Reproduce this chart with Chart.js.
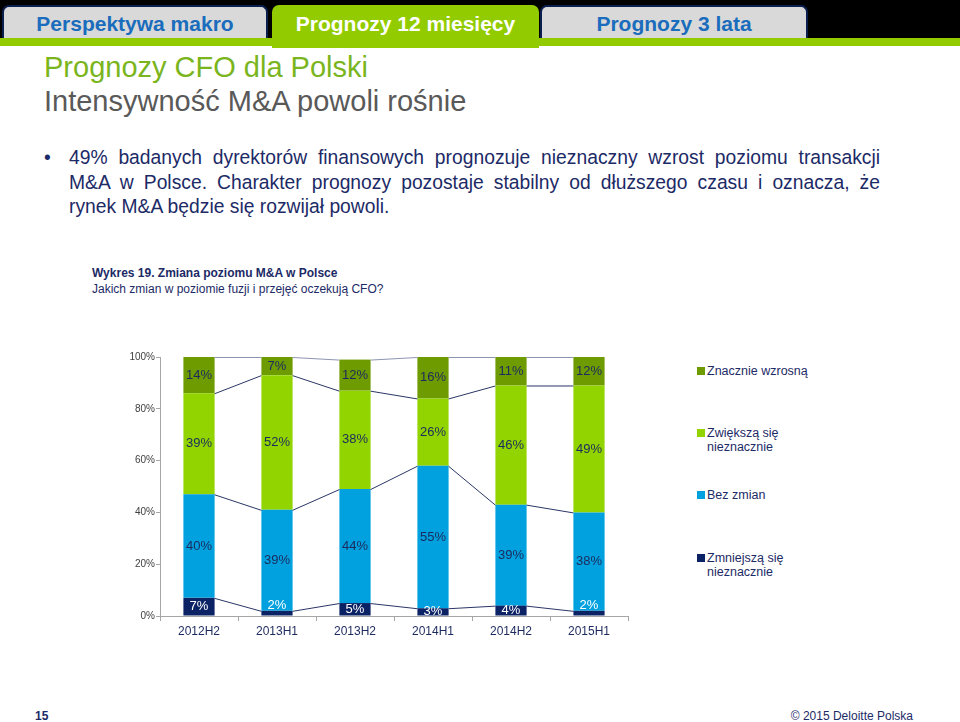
<!DOCTYPE html>
<html lang="pl">
<head>
<meta charset="utf-8">
<script src="https://cdn.jsdelivr.net/npm/chart.js@4/dist/chart.umd.min.js"></script>
<style>
  body { margin: 0; width: 960px; height: 722px; position: relative; background: #fff; font-family: "Liberation Sans", Arial, sans-serif; overflow: hidden; }
  .topbar { position: absolute; left: 0; top: 0; width: 960px; height: 39px; background: #000; }
  .greenbar { position: absolute; left: 0; top: 38px; width: 960px; height: 8px; background: #92cc00; }
  .tab { position: absolute; top: 5px; height: 31px; border: 2px solid #0b1f4f; border-bottom: none; border-radius: 7px 7px 0 0; background: #d9d9d9; color: #1a6cbc; font-weight: bold; font-size: 21px; line-height: 33px; text-align: center; }
  .tab.active { background: #92cc00; color: #fff; border-color: #92cc00; height: 41px; }
  .title { position: absolute; left: 44px; top: 51px; font-size: 29px; color: #7ab51d; }
  .subtitle { position: absolute; left: 44px; top: 85px; font-size: 29px; color: #595959; }
  .bullet { position: absolute; left: 69px; top: 146px; width: 811px; font-size: 19.3px; line-height: 24.5px; color: #1c2a66; }
  .bullet div { text-align: justify; text-align-last: justify; }
  .bullet div.last { text-align: left; text-align-last: left; }
  .bullet:before { content: "\2022"; position: absolute; left: -25px; }
  .cap1 { position: absolute; left: 92px; top: 266px; font-size: 12px; font-weight: bold; color: #1c2a66; }
  .cap2 { position: absolute; left: 92px; top: 282px; font-size: 12px; color: #1c2a66; }
  #chart { position: absolute; left: 100px; top: 345px; }
  .leg { position: absolute; left: 707px; font-size: 12.5px; line-height: 14px; color: #1c2a66; }
  .leg i { position: absolute; left: -10px; top: 3px; width: 8px; height: 8px; }
  .pnum { position: absolute; left: 35px; top: 709px; font-size: 12px; font-weight: bold; color: #1c2a66; }
  .copy { position: absolute; right: 47px; top: 709px; font-size: 12px; color: #1c2a66; }
</style>
</head>
<body>
<div class="topbar"></div>
<div class="greenbar"></div>
<div class="tab" style="left:2px;width:262px;">Perspektywa makro</div>
<div class="tab active" style="left:272px;width:263px;">Prognozy 12 miesięcy</div>
<div class="tab" style="left:540px;width:264px;">Prognozy 3 lata</div>

<div class="title">Prognozy CFO dla Polski</div>
<div class="subtitle">Intensywność M&amp;A powoli rośnie</div>
<div class="bullet">
  <div>49% badanych dyrektorów finansowych prognozuje nieznaczny wzrost poziomu transakcji</div>
  <div>M&amp;A w Polsce. Charakter prognozy pozostaje stabilny od dłuższego czasu i oznacza, że</div>
  <div class="last">rynek M&amp;A będzie się rozwijał powoli.</div>
</div>
<div class="cap1">Wykres 19. Zmiana poziomu M&amp;A w Polsce</div>
<div class="cap2">Jakich zmian w poziomie fuzji i przejęć oczekują CFO?</div>

<canvas id="chart" width="540" height="300"></canvas>

<div class="leg" style="top:364px;"><i style="background:#6e9b00"></i>Znacznie wzrosną</div>
<div class="leg" style="top:426px;"><i style="background:#92d400"></i>Zwiększą się<br>nieznacznie</div>
<div class="leg" style="top:488px;"><i style="background:#00a1de"></i>Bez zmian</div>
<div class="leg" style="top:551px;"><i style="background:#0b2265"></i>Zmniejszą się<br>nieznacznie</div>

<div class="pnum">15</div>
<div class="copy">© 2015 Deloitte Polska</div>

<script>
const categories = ['2012H2', '2013H1', '2013H2', '2014H1', '2014H2', '2015H1'];
const zmniejsza = [7, 2, 5, 3, 4, 2];
const bezZmian = [40, 39, 44, 55, 39, 38];
const zwieksza = [39, 52, 38, 26, 46, 49];
const znacznie = [14, 7, 12, 16, 11, 12];
const seriesNames = ['Zmniejszą się nieznacznie', 'Bez zmian', 'Zwiększą się nieznacznie', 'Znacznie wzrosną'];
const seriesColors = ['#0b2265', '#00a1de', '#92d400', '#6e9b00'];

// series lines between bars + value labels inside segments
const seriesLabels = {
    id: 'seriesLabels',
    afterDatasetsDraw(chart) {
        const ctx = chart.ctx;
        const area = chart.chartArea;
        ctx.save();
        ctx.lineWidth = 1;
        chart.data.datasets.forEach((ds, k) => {
            const bars = chart.getDatasetMeta(k).data;
            // top line sits on the 100% edge and looks lighter
            ctx.strokeStyle = k === chart.data.datasets.length - 1 ? '#8c95b0' : '#2a3566';
            for (let i = 0; i < bars.length - 1; i++) {
                const a = bars[i], b = bars[i + 1];
                ctx.beginPath();
                ctx.moveTo(a.x + a.width / 2, Math.max(a.y, area.top) + 0.5);
                ctx.lineTo(b.x - b.width / 2, Math.max(b.y, area.top) + 0.5);
                ctx.stroke();
            }
        });
        ctx.font = '13px "Liberation Sans", Arial, sans-serif';
        ctx.textAlign = 'center';
        ctx.textBaseline = 'middle';
        chart.data.datasets.forEach((ds, k) => {
            const bars = chart.getDatasetMeta(k).data;
            bars.forEach((bar, i) => {
                const top = Math.max(bar.y, area.top);
                let y = (top + bar.base) / 2;
                if (bar.base - top < 6) y = bar.base - 10;
                ctx.fillStyle = k === 0 ? '#ffffff' : '#1c2b5e';
                ctx.fillText(ds.data[i] + '%', bar.x, y);
            });
        });
        ctx.restore();
    }
};

new Chart(document.getElementById('chart'), {
    type: 'bar',
    data: {
        labels: categories,
        datasets: [zmniejsza, bezZmian, zwieksza, znacznie].map((d, k) => ({
            label: seriesNames[k],
            data: d,
            backgroundColor: seriesColors[k],
            categoryPercentage: 0.8,
            barPercentage: 0.5
        }))
    },
    options: {
        responsive: false,
        animation: false,
        layout: { padding: { top: 12, right: 12, left: 0, bottom: 0 } },
        plugins: { legend: { display: false }, tooltip: { enabled: false } },
        scales: {
            x: {
                stacked: true,
                grid: { drawOnChartArea: false, tickLength: 5, color: '#a6a6a6' },
                border: { color: '#a6a6a6' },
                ticks: { color: '#1c2a5e', font: { size: 12, family: '"Liberation Sans", Arial' }, padding: 3 },
                afterFit(s) { s.height = 29; }
            },
            y: {
                stacked: true,
                min: 0,
                max: 100,
                grid: { drawOnChartArea: false, tickLength: 4, color: '#a6a6a6' },
                border: { color: '#a6a6a6' },
                ticks: { stepSize: 20, color: '#404040', padding: 1, font: { size: 10, family: '"Liberation Sans", Arial' }, callback: v => v + '%' },
                afterFit(s) { s.width = 60; }
            }
        }
    },
    plugins: [seriesLabels]
});
</script>
</body>
</html>
